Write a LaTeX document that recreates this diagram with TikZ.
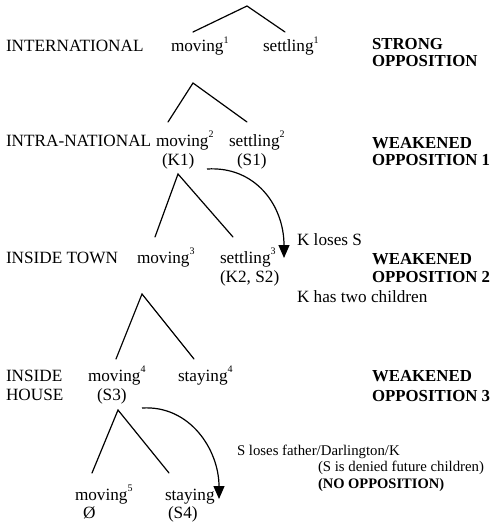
\documentclass[tikz,border=0pt]{standalone}
\usepackage{fontspec}
\setmainfont{Liberation Serif}
\usetikzlibrary{arrows.meta}
\newcommand{\supnum}[1]{\raisebox{0.5em}{\fontsize{10}{10}\selectfont #1}}
\begin{document}
\begin{tikzpicture}[x=1pt,y=-1pt,
  every node/.style={inner sep=0pt,outer sep=0pt,font=\fontsize{17.2}{18}\selectfont},
  txt/.style={anchor=base west},
  small/.style={anchor=base west,font=\fontsize{14.8}{16}\selectfont},
  bold/.style={anchor=base west,font=\fontsize{16.8}{18}\selectfont\bfseries},
  smallbold/.style={anchor=base west,font=\fontsize{14.5}{16}\selectfont\bfseries},
  edge/.style={line width=1.2pt,line cap=round},
  curvearrow/.style={line width=1.2pt,-{Triangle[length=13pt,width=11pt]}}]
\useasboundingbox[fill=white] (0,0) rectangle (493,524);
% Row 1
\node[txt] (intl) at (6,52) {INTERNATIONAL};
\node[txt] (mov1) at (171,52) {moving\supnum{1}};
\node[txt] (set1) at (263,52) {settling\supnum{1}};
\node[bold] (strong) at (372,50) {STRONG};
\node[bold] (opp0) at (372,67) {OPPOSITION};
% Row 2
\node[txt] (intra) at (6,146) {INTRA-NATIONAL};
\node[txt] (mov2) at (156,146) {moving\supnum{2}};
\node[txt] (k1) at (162,165) {(K1)};
\node[txt] (set2) at (229,146) {settling\supnum{2}};
\node[txt] (s1) at (237,165) {(S1)};
\node[bold] (weak1) at (372,148) {WEAKENED};
\node[bold] (opp1) at (372,165) {OPPOSITION 1};
% Row 3
\node[txt] (town) at (6,263) {INSIDE TOWN};
\node[txt] (mov3) at (137,263) {moving\supnum{3}};
\node[txt] (set3) at (220,263) {settling\supnum{3}};
\node[txt] (k2s2) at (220,282) {(K2, S2)};
\node[txt] (kloses) at (297,245) {K loses S};
\node[bold] (weak2) at (372,264) {WEAKENED};
\node[bold] (opp2) at (372,282) {OPPOSITION 2};
\node[txt] (khas) at (297,302) {K has two children};
% Row 4
\node[txt] (inside) at (6,381) {INSIDE};
\node[txt] (house) at (6,400) {HOUSE};
\node[txt] (mov4) at (88,381) {moving\supnum{4}};
\node[txt] (s3) at (97,400) {(S3)};
\node[txt] (stay4) at (178,381) {staying\supnum{4}};
\node[bold] (weak3) at (372,381) {WEAKENED};
\node[bold] (opp3) at (372,401) {OPPOSITION 3};
% Row 5
\node[small] (sloses) at (237,455) {S loses father/Darlington/K};
\node[small] (denied) at (318,471) {(S is denied future children)};
\node[smallbold] (noopp) at (318,488) {(NO OPPOSITION)};
\node[txt] (mov5) at (75,500) {moving\supnum{5}};
\node[txt] (empty) at (83,518) {Ø};
\node[txt] (stay5) at (165,500) {staying};
\node[txt] (s4) at (168,518) {(S4)};
% tree coordinates
\coordinate (t1a) at (247,6);   \coordinate (t1l) at (193,32);  \coordinate (t1r) at (285,32);
\coordinate (t2a) at (193,83);  \coordinate (t2l) at (168,122); \coordinate (t2r) at (247,122);
\coordinate (t3a) at (178,174); \coordinate (t3l) at (155,237); \coordinate (t3r) at (233,237);
\coordinate (t4a) at (142,294); \coordinate (t4l) at (116,359); \coordinate (t4r) at (194,359);
\coordinate (t5a) at (118,410); \coordinate (t5l) at (92,473);  \coordinate (t5r) at (169,473);
\draw[edge] (t1l) -- (t1a) -- (t1r);
\draw[edge] (t2l) -- (t2a) -- (t2r);
\draw[edge] (t3l) -- (t3a) -- (t3r);
\draw[edge] (t4l) -- (t4a) -- (t4r);
\draw[edge] (t5l) -- (t5a) -- (t5r);
% curved arrows
\coordinate (a1s) at (207,169); \coordinate (a1e) at (284,258);
\coordinate (a2s) at (142,408); \coordinate (a2e) at (219,499);
\draw[curvearrow] (a1s) .. controls (255,166) and (284,205) .. (a1e);
\draw[curvearrow] (a2s) .. controls (190,405) and (219,450) .. (a2e);
\end{tikzpicture}
\end{document}
